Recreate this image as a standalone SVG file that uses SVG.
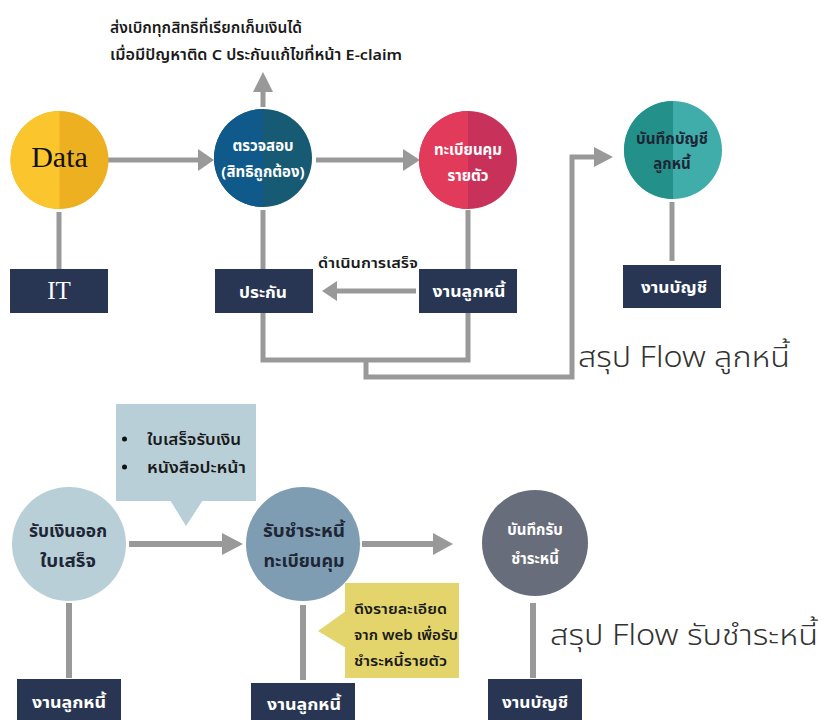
<svg xmlns="http://www.w3.org/2000/svg" width="822" height="720" viewBox="0 0 822 720">
<defs>
<style>
.ln{fill:none;stroke:#999999;stroke-width:5}
.hd{fill:#999999}
.box{fill:#283653}
.t{font-family:"Noto Sans","Noto Sans Thai",Tahoma,sans-serif;text-anchor:middle;font-weight:700}
.w{fill:#ffffff}
.dk{fill:#1e2636}
.note{font-family:"Noto Sans","Noto Sans Thai",Tahoma,sans-serif;font-weight:600;fill:#1a1a1a}
.ttl{font-family:"Noto Sans","Noto Sans Thai",Tahoma,sans-serif;font-weight:300;font-size:29px;fill:#333333}
.serif{font-family:"Liberation Serif","Times New Roman",serif;text-anchor:middle}
</style>
<clipPath id="cl1"><rect x="0" y="0" width="59.5" height="720"/></clipPath>
<clipPath id="cl2"><rect x="0" y="0" width="263" height="720"/></clipPath>
<clipPath id="cl3"><rect x="0" y="0" width="468" height="720"/></clipPath>
<clipPath id="cl4"><rect x="0" y="0" width="673" height="720"/></clipPath>
</defs>
<rect width="822" height="720" fill="#ffffff"/>

<g id="connectors">
<line class="ln" x1="108" y1="160" x2="200" y2="160"/>
<polygon class="hd" points="198,149 214,160 198,171"/>
<line class="ln" x1="316" y1="160" x2="405" y2="160"/>
<polygon class="hd" points="403,149 420,160 403,171"/>
<line class="ln" x1="263" y1="107" x2="263" y2="90"/>
<polygon class="hd" points="253,92 263,72 273,92"/>
<line class="ln" x1="59" y1="212" x2="59" y2="269"/>
<line class="ln" x1="263" y1="210" x2="263" y2="269"/>
<line class="ln" x1="468" y1="210" x2="468" y2="269"/>
<line class="ln" x1="416" y1="291" x2="335" y2="291"/>
<polygon class="hd" points="337,281 322,291 337,301"/>
<polyline class="ln" points="263,313 263,360 468,360 468,313"/>
<polyline class="ln" points="366,360 366,377 572,377 572,157 598,157"/>
<polygon class="hd" points="594,147 613,157 594,167"/>
<line class="ln" x1="672" y1="202" x2="672" y2="261"/>
<line class="ln" x1="129" y1="544" x2="225" y2="544" style="stroke-width:6"/>
<polygon class="hd" points="222,533 243,544 222,555"/>
<line class="ln" x1="362" y1="544" x2="436" y2="544" style="stroke-width:6"/>
<polygon class="hd" points="433,533 453,544 433,555"/>
<line class="ln" x1="69" y1="603" x2="69" y2="678" style="stroke-width:6"/>
<line class="ln" x1="303" y1="605" x2="303" y2="680" style="stroke-width:6"/>
<line class="ln" x1="533" y1="603" x2="533" y2="678" style="stroke-width:6"/>
</g>

<g id="note-top">
<text class="note" x="110" y="33" font-size="15" textLength="192" lengthAdjust="spacingAndGlyphs">ส่งเบิกทุกสิทธิที่เรียกเก็บเงินได้</text>
<text class="note" x="110" y="60" font-size="15" textLength="292" lengthAdjust="spacingAndGlyphs">เมื่อมีปัญหาติด C ประกันแก้ไขที่หน้า E-claim</text>
</g>

<g id="label-done">
<text class="note" x="318" y="268" font-size="14" textLength="100" lengthAdjust="spacingAndGlyphs">ดำเนินการเสร็จ</text>
</g>

<g id="node-data">
<circle cx="59.5" cy="160" r="49" fill="#EDB021"/>
<circle cx="59.5" cy="160" r="49" fill="#FBC52D" clip-path="url(#cl1)"/>
<text class="serif" x="59.5" y="167" font-size="30" fill="#111111">Data</text>
</g>

<g id="node-it">
<rect class="box" x="10" y="269" width="98" height="44"/>
<text class="serif w" x="59" y="299" font-size="25">IT</text>
</g>

<g id="node-check">
<circle cx="263" cy="158" r="49" fill="#175A74"/>
<circle cx="263" cy="158" r="49" fill="#0F5A8A" clip-path="url(#cl2)"/>
<text class="t w" x="263" y="151" font-size="15">ตรวจสอบ</text>
<text class="t w" x="263" y="177" font-size="15">(สิทธิถูกต้อง)</text>
</g>

<g id="node-register">
<circle cx="468" cy="160" r="49" fill="#C8325A"/>
<circle cx="468" cy="160" r="49" fill="#E23A5A" clip-path="url(#cl3)"/>
<text class="t w" x="468" y="155" font-size="15">ทะเบียนคุม</text>
<text class="t w" x="468" y="181" font-size="15">รายตัว</text>
</g>

<g id="node-insurance">
<rect class="box" x="215" y="269" width="98" height="44"/>
<text class="t w" x="263" y="298" font-size="16" textLength="48" lengthAdjust="spacingAndGlyphs">ประกัน</text>
</g>

<g id="node-ar1">
<rect class="box" x="419" y="269" width="98" height="44"/>
<text class="t w" x="469" y="297" font-size="16" textLength="73" lengthAdjust="spacingAndGlyphs">งานลูกหนี้</text>
</g>

<g id="node-account-rec">
<circle cx="673" cy="150" r="49" fill="#40ADAA"/>
<circle cx="673" cy="150" r="49" fill="#23918A" clip-path="url(#cl4)"/>
<text class="t dk" x="672" y="144" font-size="15" textLength="72" lengthAdjust="spacingAndGlyphs">บันทึกบัญชี</text>
<text class="t dk" x="672" y="169" font-size="15">ลูกหนี้</text>
</g>

<g id="node-accounting1">
<rect class="box" x="623" y="265" width="98" height="43"/>
<text class="t w" x="674" y="293" font-size="16" textLength="66" lengthAdjust="spacingAndGlyphs">งานบัญชี</text>
</g>

<g id="title1">
<text class="ttl" x="578" y="367" textLength="212" lengthAdjust="spacingAndGlyphs">สรุป Flow ลูกหนี้</text>
</g>

<g id="callout-docs">
<rect x="116" y="404" width="140" height="97" fill="#B8CFD8"/>
<polygon points="170,500 203,500 186,526" fill="#B8CFD8"/>
<circle cx="124.5" cy="439" r="2.5" fill="#111111"/>
<circle cx="124.5" cy="467" r="2.5" fill="#111111"/>
<text class="note" x="147" y="445" font-size="15" textLength="94" lengthAdjust="spacingAndGlyphs">ใบเสร็จรับเงิน</text>
<text class="note" x="147" y="473" font-size="15" textLength="99" lengthAdjust="spacingAndGlyphs">หนังสือปะหน้า</text>
</g>

<g id="node-receive">
<circle cx="69" cy="544" r="57" fill="#B8CFD8"/>
<text class="t dk" x="68" y="537" font-size="17" textLength="78" lengthAdjust="spacingAndGlyphs">รับเงินออก</text>
<text class="t dk" x="68" y="567" font-size="17" textLength="56" lengthAdjust="spacingAndGlyphs">ใบเสร็จ</text>
</g>

<g id="node-ar2">
<rect class="box" x="17" y="679" width="104" height="41"/>
<text class="t w" x="69" y="708" font-size="16" textLength="74" lengthAdjust="spacingAndGlyphs">งานลูกหนี้</text>
</g>

<g id="node-payment">
<circle cx="303" cy="544" r="57" fill="#7F9DB2"/>
<text class="t dk" x="304" y="537" font-size="17" textLength="82" lengthAdjust="spacingAndGlyphs">รับชำระหนี้</text>
<text class="t dk" x="304" y="567" font-size="17" textLength="81" lengthAdjust="spacingAndGlyphs">ทะเบียนคุม</text>
</g>

<g id="callout-web">
<rect x="345" y="583" width="114" height="95" fill="#E3D56B"/>
<polygon points="346,611 346,648 318,631" fill="#E3D56B"/>
<text class="note" x="354" y="614" font-size="14" textLength="93" lengthAdjust="spacingAndGlyphs">ดึงรายละเอียด</text>
<text class="note" x="354" y="640" font-size="14" textLength="104" lengthAdjust="spacingAndGlyphs">จาก web เพื่อรับ</text>
<text class="note" x="354" y="666" font-size="14" textLength="93" lengthAdjust="spacingAndGlyphs">ชำระหนี้รายตัว</text>
</g>

<g id="node-ar3">
<rect class="box" x="251" y="683" width="104" height="37"/>
<text class="t w" x="304" y="710" font-size="16" textLength="74" lengthAdjust="spacingAndGlyphs">งานลูกหนี้</text>
</g>

<g id="node-record-payment">
<circle cx="535" cy="543" r="53" fill="#676D7A"/>
<text class="t w" x="535" y="535" font-size="15" font-weight="600">บันทึกรับ</text>
<text class="t w" x="535" y="564" font-size="15" font-weight="600">ชำระหนี้</text>
</g>

<g id="node-accounting2">
<rect class="box" x="488" y="679" width="94" height="41"/>
<text class="t w" x="535" y="708" font-size="16" textLength="66" lengthAdjust="spacingAndGlyphs">งานบัญชี</text>
</g>

<g id="title2">
<text class="ttl" x="550" y="645" textLength="268" lengthAdjust="spacingAndGlyphs">สรุป Flow รับชำระหนี้</text>
</g>
</svg>
